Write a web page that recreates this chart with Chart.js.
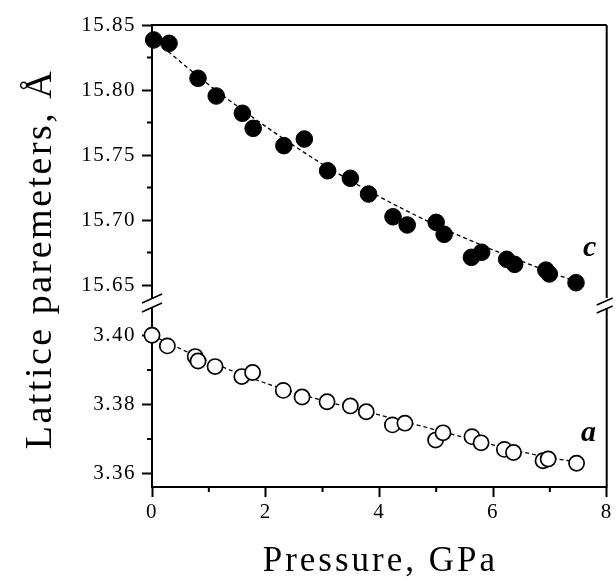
<!DOCTYPE html>
<html>
<head>
<meta charset="utf-8">
<script src="https://cdn.jsdelivr.net/npm/chart.js@4.4.0/dist/chart.umd.min.js"></script>
<style>
  html, body { margin: 0; padding: 0; background: #fff; }
  #wrap { width: 616px; height: 583px; }
</style>
</head>
<body>
<div id="wrap"><canvas id="latticeChart" width="616" height="583"></canvas></div>
<script>
// c parameter (filled circles, upper panel)
const pressureC = [0.03, 0.30, 0.81, 1.13, 1.59, 1.78, 2.32, 2.68, 3.09, 3.49, 3.81,
  4.24, 4.49, 5.00, 5.14, 5.62, 5.80, 6.24, 6.38, 6.93, 6.99, 7.46];
const latticeC = [15.8385, 15.8359, 15.8090, 15.7954, 15.7821, 15.7705, 15.7572, 15.7623,
  15.7379, 15.7321, 15.7200, 15.7025, 15.6962, 15.6982, 15.6890, 15.6713, 15.6752,
  15.6698, 15.6659, 15.6615, 15.6585, 15.6518];

// a parameter (open circles, lower panel)
const pressureA = [0.00, 0.27, 0.76, 0.81, 1.11, 1.58, 1.77, 2.31, 2.64, 3.08, 3.49, 3.77,
  4.23, 4.45, 4.99, 5.12, 5.63, 5.79, 6.20, 6.36, 6.88, 6.97, 7.47];
const latticeA = [3.4001, 3.3970, 3.3939, 3.3926, 3.3910, 3.3881, 3.3893, 3.3841, 3.3822,
  3.3808, 3.3796, 3.3779, 3.3741, 3.3746, 3.3697, 3.3718, 3.3707, 3.3689, 3.3670,
  3.3661, 3.3637, 3.3642, 3.3630];

// dashed fit curves
const fitP = [0, 1, 2, 3, 4, 5, 6, 7, 7.5];
const fitC = [15.840, 15.804, 15.772, 15.743, 15.718, 15.696, 15.677, 15.660, 15.652];
const fitA = [3.4000, 3.3925, 3.3862, 3.3812, 3.3770, 3.3726, 3.3683, 3.3646, 3.3633];

// ticks
const xTicks = [0, 2, 4, 6, 8];
const xMinor = [1, 3, 5, 7];
const topTicks = [15.65, 15.70, 15.75, 15.80, 15.85];
const topMinor = [15.675, 15.725, 15.775, 15.825];
const botTicks = [3.36, 3.38, 3.40];
const botMinor = [3.37, 3.39];

const serif = "'Liberation Serif', 'Times New Roman', serif";
const tickFont = { family: "Liberation Serif", size: 21 };

function pts(xs, ys) {
  return xs.map((x, i) => ({ x: x, y: ys[i] }));
}

const decorPlugin = {
  id: "decor",
  beforeLayout(chart) { chart.ctx.letterSpacing = "1.5px"; },
  beforeDraw(chart) { chart.ctx.letterSpacing = "1.5px"; },
  afterDraw(chart) {
    const ctx = chart.ctx;
    const area = chart.chartArea;
    const x = chart.scales.x, yTop = chart.scales.yTop, yBot = chart.scales.yBot;
    const split = yTop.bottom;
    ctx.save();
    ctx.strokeStyle = "#000";
    ctx.lineWidth = 2;

    // minor ticks
    ctx.beginPath();
    xMinor.forEach(v => {
      const px = x.getPixelForValue(v);
      ctx.moveTo(px, area.bottom);
      ctx.lineTo(px, area.bottom + 5);
    });
    topMinor.forEach(v => {
      const py = yTop.getPixelForValue(v);
      ctx.moveTo(area.left, py);
      ctx.lineTo(area.left - 5, py);
    });
    botMinor.forEach(v => {
      const py = yBot.getPixelForValue(v);
      ctx.moveTo(area.left, py);
      ctx.lineTo(area.left - 5, py);
    });
    ctx.stroke();

    // top frame and right frame with break
    ctx.beginPath();
    ctx.moveTo(area.left - 1, area.top);
    ctx.lineTo(area.right, area.top);
    ctx.moveTo(area.right, area.top);
    ctx.lineTo(area.right, split - 2);
    ctx.moveTo(area.right, split + 8);
    ctx.lineTo(area.right, area.bottom + 1);
    ctx.stroke();

    // left axis break
    ctx.fillStyle = "#fff";
    ctx.fillRect(area.left - 4, split - 1, 8, 8);
    ctx.lineWidth = 1.6;
    ctx.beginPath();
    ctx.moveTo(area.left - 10, split + 3);
    ctx.lineTo(area.left + 10, split - 6);
    ctx.moveTo(area.left - 10, split + 12);
    ctx.lineTo(area.left + 10, split + 3);
    // right axis break
    ctx.moveTo(area.right - 10, split + 5);
    ctx.lineTo(area.right + 6, split - 2);
    ctx.moveTo(area.right - 10, split + 13);
    ctx.lineTo(area.right + 6, split + 6);
    ctx.stroke();

    // axis titles
    ctx.fillStyle = "#000";
    ctx.textAlign = "center";
    ctx.textBaseline = "middle";
    ctx.font = "35px " + serif;
    ctx.letterSpacing = "3px";
    ctx.fillText("Pressure, GPa", (area.left + area.right) / 2 + 1, 562);

    ctx.save();
    ctx.translate(41, 259);
    ctx.rotate(-Math.PI / 2);
    ctx.font = "38px " + serif;
    ctx.letterSpacing = "2.5px";
    ctx.fillText("Lattice paremeters, \u00C5", 0, 0);
    ctx.restore();

    // series letters
    ctx.letterSpacing = "0px";
    ctx.font = "italic bold 30px " + serif;
    ctx.fillText("c", x.getPixelForValue(7.7), yTop.getPixelForValue(15.6785));
    ctx.fillText("a", x.getPixelForValue(7.68), yBot.getPixelForValue(3.3717));
    ctx.restore();
  }
};

function yAxis(min, max, ticks, weight, order) {
  return {
    type: "linear",
    position: "left",
    stack: "lattice",
    stackWeight: weight,
    weight: order,
    min: min,
    max: max,
    afterBuildTicks: s => { s.ticks = ticks.map(v => ({ value: v })); },
    afterFit: s => { s.width = 152; },
    ticks: {
      color: "#000",
      font: tickFont,
      padding: 6,
      callback: v => Number(v).toFixed(2)
    },
    grid: { drawOnChartArea: false, tickLength: 10, tickWidth: 2, tickColor: "#000" },
    border: { color: "#000", width: 2 }
  };
}

new Chart(document.getElementById("latticeChart"), {
  type: "scatter",
  data: {
    datasets: [
      {
        data: pts(pressureC, latticeC),
        yAxisID: "yTop",
        pointRadius: 8.3,
        pointBackgroundColor: "#000",
        pointBorderColor: "#000",
        pointBorderWidth: 1,
        showLine: false,
        clip: false
      },
      {
        data: pts(pressureA, latticeA),
        yAxisID: "yBot",
        pointRadius: 7.6,
        pointBackgroundColor: "#fff",
        pointBorderColor: "#000",
        pointBorderWidth: 1.7,
        showLine: false,
        clip: false
      },
      {
        type: "line",
        data: pts(fitP, fitC),
        yAxisID: "yTop",
        borderColor: "#000",
        borderWidth: 1.3,
        borderDash: [4, 3],
        pointRadius: 0,
        cubicInterpolationMode: "monotone",
        fill: false
      },
      {
        type: "line",
        data: pts(fitP, fitA),
        yAxisID: "yBot",
        borderColor: "#000",
        borderWidth: 1.3,
        borderDash: [4, 3],
        pointRadius: 0,
        cubicInterpolationMode: "monotone",
        fill: false
      }
    ]
  },
  options: {
    responsive: false,
    animation: false,
    devicePixelRatio: 1,
    layout: { padding: { top: 25, right: 6, left: 0, bottom: 0 } },
    plugins: { legend: { display: false }, tooltip: { enabled: false } },
    scales: {
      x: {
        type: "linear",
        min: 0,
        max: 8,
        afterBuildTicks: s => { s.ticks = xTicks.map(v => ({ value: v })); },
        afterFit: s => { s.height = 96; },
        ticks: { color: "#000", font: tickFont, padding: 3 },
        grid: { drawOnChartArea: false, tickLength: 10, tickWidth: 2, tickColor: "#000" },
        border: { color: "#000", width: 2 }
      },
      yBot: yAxis(3.3561, 3.4103, botTicks, 187, 1),
      yTop: yAxis(15.6385, 15.85, topTicks, 275, 2)
    }
  },
  plugins: [decorPlugin]
});
</script>
</body>
</html>
